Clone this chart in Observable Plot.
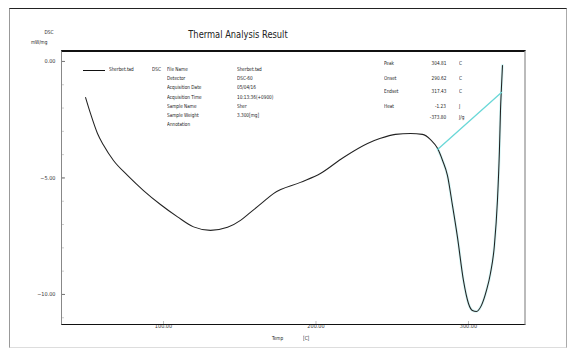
<!DOCTYPE html>
<html>
<head>
<meta charset="utf-8">
<script src="https://cdn.jsdelivr.net/npm/d3@7"></script>
<script src="https://cdn.jsdelivr.net/npm/@observablehq/plot@0.6"></script>
<style>
  html, body { margin: 0; padding: 0; background: #fff; }
  #wrap { position: relative; width: 571px; height: 351px; overflow: hidden;
    font-family: "Liberation Sans Narrow", "DejaVu Sans Condensed", "Liberation Sans", sans-serif; color: #222; }
  #wrap svg { position: absolute; left: 0; top: 0; }
  .abs { position: absolute; white-space: nowrap; line-height: 1; }
  .outer { left: 9px; top: 8px; width: 558px; height: 340px; border-top: 1.5px solid #222;
    border-left: 1px solid #999; border-right: 1.5px solid #aaa; border-bottom: 1px solid #ddd; box-sizing: border-box; }
  .inner { left: 61px; top: 50px; width: 465px; height: 275px; border-top: 2px solid #111;
    border-bottom: 1.5px solid #111; border-left: 1px solid #888; border-right: 2px solid #bbb; box-sizing: border-box; }
  .sm { font-size: 5.5px; transform: scaleX(0.85); transform-origin: left center; }
  .smr { font-size: 5.5px; transform: scaleX(0.85); transform-origin: right center; }
</style>
</head>
<body>
<div id="wrap"></div>
<script>
// ---- data ----
const temps = [48.9, 52.1, 56.7, 60.7, 67.2, 76.4, 86.9, 98.0, 109.2, 119.7, 130.8, 142.0, 150.5, 157.0, 165.0, 172.1, 189.8, 202.9, 218.0, 233.8, 242.3, 252.1, 262.0, 269.8, 275.1, 279.7, 283.0, 286.2, 289.5, 292.8, 296.7, 300.0, 302.6, 305.2, 308.5, 311.8, 314.4, 317.0, 319.0, 320.3, 321.0, 321.6, 322.3];
const dsc   = [-1.55, -2.23, -3.09, -3.60, -4.25, -4.89, -5.54, -6.14, -6.67, -7.10, -7.25, -7.12, -6.82, -6.48, -6.05, -5.67, -5.19, -4.81, -4.12, -3.52, -3.30, -3.13, -3.09, -3.13, -3.35, -3.73, -4.25, -4.89, -6.18, -7.55, -9.40, -10.39, -10.69, -10.73, -10.47, -9.83, -9.10, -7.90, -5.97, -3.82, -2.10, -1.16, -0.17];
const baselineTemps = [279.7, 321.6];
const baselineDsc = [-3.78, -1.33];
const xTicks = [100, 200, 300];
const yTicks = [0, -5, -10];
const yMinorTicks = [0, -1, -2, -3, -4, -5, -6, -7, -8, -9, -10, -11];
const xDomain = [33.1, 337.4];
const yDomain = [-11.29, 0.47];

const titleText = "Thermal Analysis Result";
const legendLabel = "Sherbet.tad";
const legendKind = "DSC";
const metaLabels = ["File Name", "Detector", "Acquisition Date", "Acquisition Time", "Sample Name", "Sample Weight", "Annotation"];
const metaValues = ["Sherbet.tad", "DSC-60", "05/04/16", "10:13:36(+0900)", "Sher", "3.300[mg]", ""];
const peakLabels = ["Peak", "Onset", "Endset", "Heat", ""];
const peakValues = ["304.81", "290.62", "317.43", "-1.23", "-373.80"];
const peakUnits = ["C", "C", "C", "J", "J/g"];

// ---- chart ----
const rows = temps.map((t, i) => ({t, v: dsc[i]}));
const peakRows = rows.filter(d => d.t >= baselineTemps[0]);
const base = baselineTemps.map((t, i) => ({t, v: baselineDsc[i]}));

const chart = Plot.plot({
  width: 571, height: 351,
  marginLeft: 61, marginTop: 50, marginRight: 46, marginBottom: 27,
  style: {fontFamily: '"Liberation Sans Narrow", "DejaVu Sans Condensed", sans-serif', fontSize: "5.5px", color: "#333", background: "transparent"},
  x: {domain: xDomain},
  y: {domain: yDomain},
  marks: [
    Plot.axisY({ticks: yMinorTicks, tickSize: -3, text: null, label: null, stroke: "#ccc"}),
    Plot.axisY({ticks: yTicks, tickSize: -4, tickFormat: d => d3.format(".2f")(d), tickPadding: 10, label: null, stroke: "#777"}),
    Plot.axisX({ticks: xTicks, tickSize: -3, tickFormat: d => d3.format(".2f")(d), tickPadding: 3, label: null, stroke: "#bbb"}),
    Plot.line(peakRows, {x: "t", y: "v", curve: "monotone-x", stroke: "#9eeaea", strokeWidth: 2.6, strokeOpacity: 0.45}),
    Plot.line(rows, {x: "t", y: "v", curve: "monotone-x", stroke: "#222", strokeWidth: 1.05}),
    Plot.line(base, {x: "t", y: "v", stroke: "#6ad8d8", strokeWidth: 1.3})
  ]
});

const wrap = document.getElementById("wrap");
wrap.appendChild(chart);

function add(cls, style, text) {
  const d = document.createElement("div");
  d.className = "abs " + cls;
  Object.assign(d.style, style);
  if (text !== undefined) d.textContent = text;
  wrap.appendChild(d);
  return d;
}
add("outer", {});
add("inner", {});
add("", {left: "168px", top: "29px", fontSize: "10.5px", width: "140px", textAlign: "center", transform: "scaleX(0.88)", transformOrigin: "center"}, titleText);
add("smr", {right: (571 - 53) + "px", top: "30px"}, "DSC");
add("smr", {right: (571 - 47) + "px", top: "40px"}, "mW/mg");
add("", {left: "83px", top: "69.5px", width: "22px", height: "0", borderTop: "1.2px solid #111"});
add("sm", {left: "109px", top: "67px"}, legendLabel);
add("sm", {left: "152px", top: "67px"}, legendKind);
metaLabels.forEach((l, i) => {
  add("sm", {left: "167px", top: (67 + i * 9.2) + "px"}, l);
  add("sm", {left: "237px", top: (67 + i * 9.2) + "px"}, metaValues[i]);
});
const peakTops = [61, 76, 89, 104, 115];
peakLabels.forEach((l, i) => {
  add("sm", {left: "384px", top: peakTops[i] + "px"}, l);
  add("smr", {right: (571 - 446) + "px", top: peakTops[i] + "px"}, peakValues[i]);
  add("sm", {left: "459px", top: peakTops[i] + "px"}, peakUnits[i]);
});
add("sm", {left: "272px", top: "336px"}, "Temp");
add("sm", {left: "303px", top: "336px"}, "[C]");
</script>
</body>
</html>
